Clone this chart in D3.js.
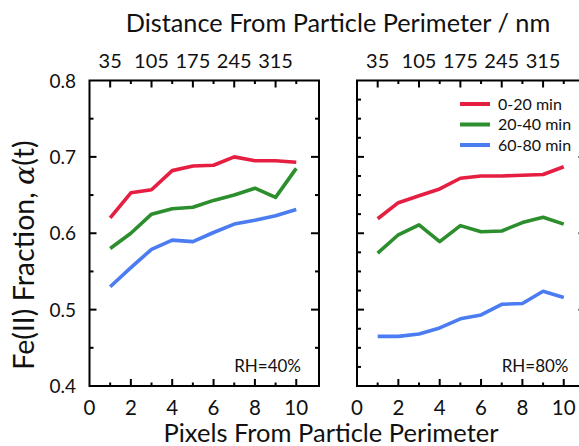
<!DOCTYPE html>
<html>
<head>
<meta charset="utf-8">
<script src="https://cdn.jsdelivr.net/npm/d3@7"></script>
<style>
  html, body { margin: 0; padding: 0; background: #fff; }
  svg text { font-family: Lato, "Open Sans", sans-serif; fill: #111; }
</style>
</head>
<body>
<svg id="chart" width="579" height="446"></svg>
<script>
// Pixel distance from the particle perimeter (1 pixel = 35 nm)
const pixels = [1, 2, 3, 4, 5, 6, 7, 8, 9, 10];
const nmPerPixel = 35;
const nmTicks = [35, 105, 175, 245, 315];
const pixelTicks = [0, 2, 4, 6, 8, 10];
const fractionTicks = [0.4, 0.5, 0.6, 0.7, 0.8];

// Fe(II) fraction, RH = 40%
const rh40_0_20 = [0.620, 0.653, 0.657, 0.682, 0.688, 0.689, 0.700, 0.695, 0.695, 0.693];
const rh40_20_40 = [0.580, 0.600, 0.625, 0.632, 0.634, 0.643, 0.650, 0.659, 0.647, 0.685];
const rh40_60_80 = [0.530, 0.555, 0.579, 0.591, 0.589, 0.601, 0.612, 0.617, 0.623, 0.631];

// Fe(II) fraction, RH = 80%
const rh80_0_20 = [0.619, 0.640, 0.649, 0.658, 0.672, 0.675, 0.675, 0.676, 0.677, 0.687];
const rh80_20_40 = [0.574, 0.598, 0.611, 0.589, 0.610, 0.602, 0.603, 0.614, 0.621, 0.612];
const rh80_60_80 = [0.465, 0.465, 0.468, 0.476, 0.488, 0.493, 0.507, 0.508, 0.524, 0.516];

const seriesNames = ["0-20 min", "20-40 min", "60-80 min"];
const seriesColors = ["#e61f42", "#2d8e2d", "#4c7cf2"];

const panels = [
  { label: "RH=40%", series: [rh40_0_20, rh40_20_40, rh40_60_80], left: 89.5, yMinor: 0.05, legend: false },
  { label: "RH=80%", series: [rh80_0_20, rh80_20_40, rh80_60_80], left: 357, yMinor: 0.025, legend: true }
];

const svg = d3.select("#chart");
const panelW = 229.5, plotTop = 80.5, plotBottom = 386;
const xMax = 11.1;

const y = d3.scaleLinear().domain([0.4, 0.8]).range([plotBottom, plotTop]);

function rangeTicks(start, stop, step) {
  const out = [];
  for (let i = 0; start + i * step <= stop + 1e-9; i++) out.push(+(start + i * step).toFixed(4));
  return out;
}

panels.forEach((p) => {
  const x = d3.scaleLinear().domain([0, xMax]).range([p.left, p.left + panelW]);
  const xNm = d3.scaleLinear().domain([0, xMax * nmPerPixel]).range([p.left, p.left + panelW]);
  const g = svg.append("g");

  // frame
  g.append("rect")
    .attr("x", p.left).attr("y", plotTop)
    .attr("width", panelW).attr("height", plotBottom - plotTop)
    .attr("fill", "none").attr("stroke", "#000").attr("stroke-width", 2);

  const allPix = d3.range(1, 11);
  const tickLine = (sel) => sel.attr("stroke", "#000").attr("stroke-width", 2);

  // bottom ticks (inward): long at even, short at odd
  g.selectAll(".bt").data(allPix).join("line")
    .attr("x1", d => x(d)).attr("x2", d => x(d))
    .attr("y1", plotBottom).attr("y2", d => plotBottom - (d % 2 === 0 ? 7 : 3.5))
    .call(tickLine);
  // top ticks (inward): long at labelled nm positions
  g.selectAll(".tt").data(allPix).join("line")
    .attr("x1", d => x(d)).attr("x2", d => x(d))
    .attr("y1", plotTop).attr("y2", d => plotTop + (d % 2 === 1 ? 7 : 3.5))
    .call(tickLine);

  // vertical ticks on both sides
  const yt = rangeTicks(0.4, 0.8, p.yMinor).filter(v => v > 0.4 && v < 0.8);
  const isMajor = v => Math.abs(v * 10 - Math.round(v * 10)) < 1e-6;
  g.selectAll(".lt").data(yt).join("line")
    .attr("x1", p.left).attr("x2", v => p.left + (isMajor(v) ? 7 : 4))
    .attr("y1", v => y(v)).attr("y2", v => y(v)).call(tickLine);
  g.selectAll(".rt").data(yt).join("line")
    .attr("x1", p.left + panelW).attr("x2", v => p.left + panelW - (isMajor(v) ? 8 : 4))
    .attr("y1", v => y(v)).attr("y2", v => y(v)).call(tickLine);

  // bottom tick labels
  g.selectAll(".bl").data(pixelTicks).join("text")
    .attr("x", d => x(d)).attr("y", 415)
    .attr("text-anchor", "middle").attr("font-size", 20.5)
    .text(d => d);

  // top nm labels
  g.selectAll(".tl").data(nmTicks).join("text")
    .attr("x", d => xNm(d)).attr("y", 68)
    .attr("text-anchor", "middle").attr("font-size", 20)
    .text(d => d);

  // data lines
  const line = d3.line().x((d, i) => x(pixels[i])).y(d => y(d));
  p.series.forEach((vals, si) => {
    g.append("path").datum(vals)
      .attr("d", line)
      .attr("fill", "none")
      .attr("stroke", seriesColors[si])
      .attr("stroke-width", 3.6)
      .attr("stroke-linejoin", "round");
  });

  // RH label
  g.append("text")
    .attr("x", p.left + panelW - 18).attr("y", 372)
    .attr("text-anchor", "end").attr("font-size", 17)
    .text(p.label);

  if (p.legend) {
    const lg = g.append("g");
    seriesNames.forEach((name, si) => {
      const yy = 104 + si * 20.5;
      lg.append("line")
        .attr("x1", 460).attr("x2", 490).attr("y1", yy).attr("y2", yy)
        .attr("stroke", seriesColors[si]).attr("stroke-width", 4);
      lg.append("text")
        .attr("x", 498).attr("y", yy + 5.5)
        .attr("font-size", 16)
        .text(name);
    });
  }
});

// y tick labels (left panel only)
svg.selectAll(".yl").data(fractionTicks).join("text")
  .attr("x", 76).attr("y", d => y(d) + 7)
  .attr("text-anchor", "end").attr("font-size", 19)
  .text(d => d.toFixed(1));

// axis titles
const centerX = (panels[0].left + panels[1].left + panelW) / 2;
svg.append("text")
  .attr("x", centerX).attr("y", 32)
  .attr("text-anchor", "middle").attr("font-size", 25.3)
  .text("Distance From Particle Perimeter / nm");

svg.append("text")
  .attr("x", 331).attr("y", 442)
  .attr("text-anchor", "middle").attr("font-size", 25.5)
  .text("Pixels From Particle Perimeter");

const yTitle = svg.append("text")
  .attr("transform", `translate(34, 255) rotate(-90)`)
  .attr("text-anchor", "middle").attr("font-size", 28.5);
yTitle.append("tspan").text("Fe(II) Fraction, ");
yTitle.append("tspan").attr("font-style", "italic").attr("font-family", "'DejaVu Serif', serif").text("α");
yTitle.append("tspan").text("(t)");
</script>
</body>
</html>
